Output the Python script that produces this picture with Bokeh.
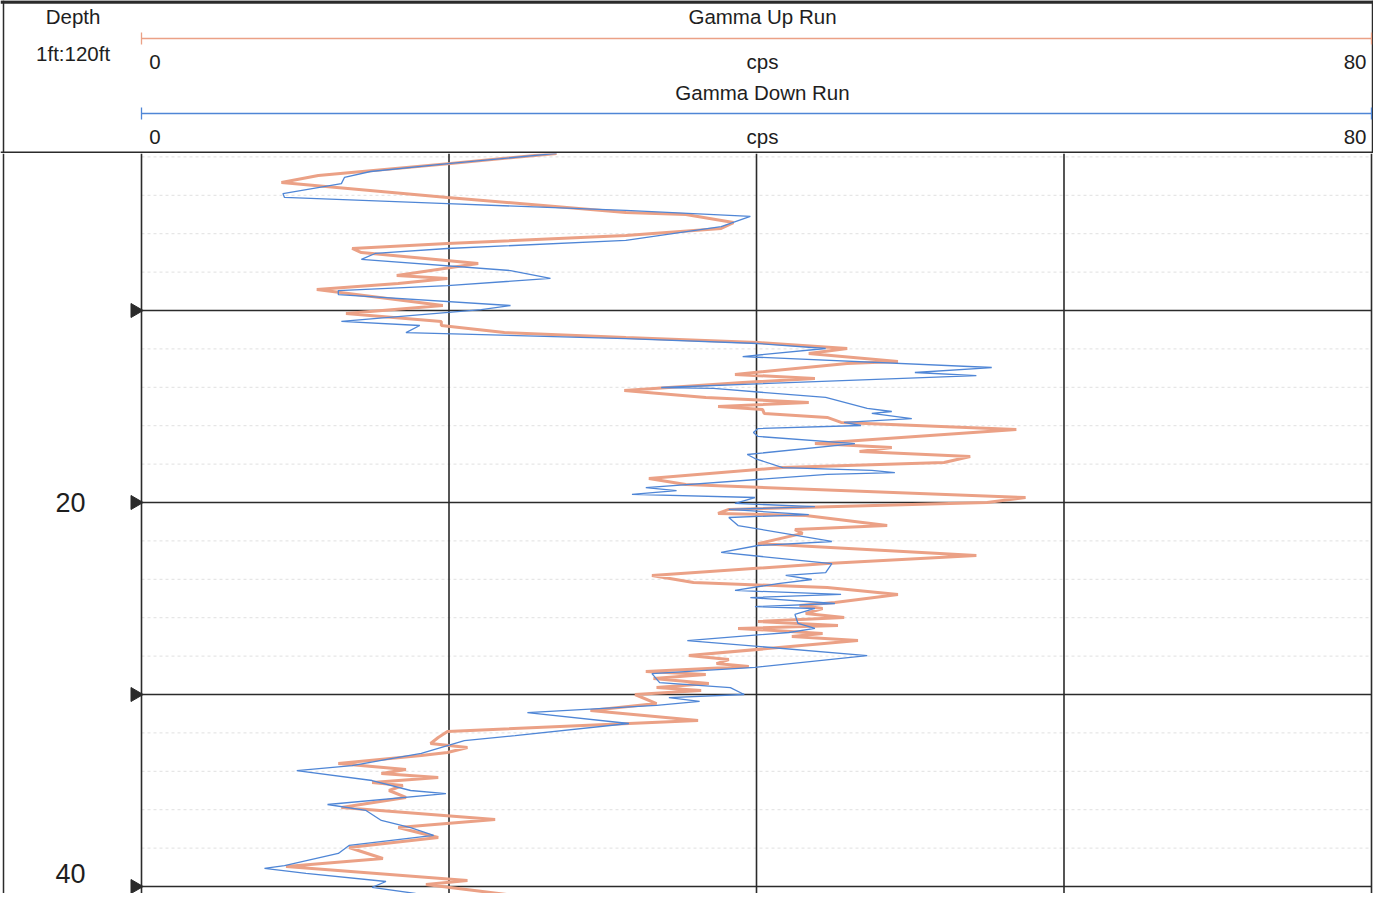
import numpy as np
from bokeh.plotting import figure
from bokeh.models import Range1d
from bokeh.layouts import column
from bokeh.core.properties import value
from bokeh.embed import file_html
from bokeh.resources import INLINE

# ---------------- data ----------------
up_depth = [1.82, 2.34, 2.97, 3.33, 4.11, 4.90, 5.00, 5.42, 5.73, 6.09, 6.51, 6.77, 6.98, 7.55, 8.18,
            8.33, 8.59, 8.91, 9.74, 10.16, 10.57, 10.78, 11.15, 11.41, 11.67, 11.98, 12.24, 12.66, 12.76,
            13.33, 13.54, 13.75, 14.17, 14.53, 14.79, 15.00, 15.16, 15.36, 15.57, 15.83, 16.20, 16.93,
            17.14, 17.34, 17.60, 17.92, 18.18, 18.75, 19.06, 19.74, 20.00, 20.36, 20.57, 20.68, 21.20,
            21.41, 21.61, 22.14, 22.76, 23.18, 23.80, 24.17, 24.43, 24.79, 25.21, 25.36, 25.52, 25.78,
            25.99, 26.20, 26.41, 26.56, 26.82, 26.98, 27.19, 27.97, 28.18, 28.39, 28.54, 28.80, 28.96,
            29.17, 29.43, 29.64, 29.79, 30.00, 30.47, 30.83, 31.35, 31.51, 31.93, 32.24, 32.55, 32.76,
            33.02, 33.18, 33.59, 33.91, 34.11, 34.32, 34.58, 34.74, 35.00, 35.36, 35.89, 36.51, 36.93,
            37.45, 37.97, 38.54, 38.96, 39.69, 39.90, 40.47, 40.89, 41.20]
up_cps = [27.0, 20.1, 11.5, 9.1, 19.9, 31.5, 35.4, 38.5, 37.7, 31.5, 19.9, 13.7, 14.3, 21.9, 16.6,
          19.9, 16.7, 11.4, 19.6, 13.3, 19.5, 19.5, 23.6, 31.5, 40.1, 45.9, 43.4, 49.2, 45.9,
          38.6, 43.8, 39.1, 31.4, 36.7, 43.4, 37.5, 40.4, 40.5, 44.6, 45.5, 56.9, 43.8,
          48.8, 46.7, 53.9, 52.2, 41.7, 33.0, 35.4, 57.5, 55.0, 38.2, 37.5, 43.2, 48.5,
          42.5, 43.0, 40.1, 54.3, 44.6, 33.2, 35.9, 44.6, 49.2, 45.1, 42.8, 44.3, 43.2,
          45.7, 40.1, 45.3, 38.8, 44.3, 42.3, 46.6, 35.6, 38.2, 37.4, 39.5, 32.8, 36.7,
          33.3, 36.9, 33.5, 36.4, 32.1, 33.5, 29.2, 36.2, 31.7, 19.9, 19.3, 18.8, 21.2,
          19.9, 18.2, 12.8, 17.2, 15.6, 19.3, 15.0, 17.0, 16.1, 17.2, 13.0, 23.0, 16.7,
          19.3, 13.5, 15.7, 9.4, 21.2, 18.5, 24.3, 22.7, 23.2]

down_depth = [1.82, 2.34, 2.76, 3.07, 3.39, 3.91, 4.11, 4.43, 4.79, 5.10, 5.63, 6.35, 6.77, 7.03, 7.34,
              7.92, 8.33, 8.70, 8.96, 9.17, 9.74, 9.95, 10.57, 10.78, 11.15, 11.46, 11.72, 11.98, 12.40,
              12.97, 13.23, 13.39, 14.01, 14.06, 14.53, 15.10, 15.26, 15.36, 15.63, 15.83, 15.99, 16.15,
              16.35, 16.56, 16.93, 17.50, 17.71, 18.18, 18.33, 18.44, 18.54, 19.22, 19.38, 19.58, 19.74,
              20.05, 20.21, 20.36, 20.63, 20.78, 21.20, 22.03, 22.24, 22.60, 23.18, 23.65, 23.80, 24.01,
              24.22, 24.58, 24.79, 24.95, 25.26, 25.42, 25.52, 25.83, 26.30, 26.56, 26.77, 27.19, 27.97,
              28.59, 28.91, 29.38, 29.64, 30.00, 30.16, 30.36, 30.57, 30.94, 31.51, 32.14, 32.40, 33.07,
              33.28, 33.70, 33.96, 34.48, 35.00, 35.16, 35.73, 36.04, 36.56, 36.93, 37.34, 37.86, 38.28,
              38.91, 39.06, 39.32, 39.74, 40.05, 40.36, 41.09]
down_cps = [27.0, 20.1, 14.9, 13.2, 13.0, 9.2, 9.3, 19.9, 31.5, 39.6, 37.7, 31.5, 19.9, 15.2, 14.3,
            24.0, 26.6, 19.9, 12.8, 12.8, 24.0, 22.1, 13.0, 18.1, 17.2, 31.5, 40.1, 44.5, 39.1,
            55.3, 50.3, 54.3, 33.8, 37.2, 44.5, 47.2, 48.8, 47.5, 50.1, 45.7, 46.8, 40.1,
            39.8, 40.1, 46.4, 39.4, 39.9, 41.7, 47.5, 49.0, 44.6, 32.8, 34.8, 31.9, 39.9,
            38.6, 43.8, 38.2, 43.4, 38.2, 38.8, 44.9, 40.1, 37.7, 44.9, 44.5, 41.9, 43.6,
            41.4, 38.6, 45.5, 39.6, 45.1, 39.9, 43.8, 42.5, 42.7, 43.8, 42.1, 35.5, 47.2,
            39.9, 33.2, 33.7, 38.3, 39.2, 34.3, 36.3, 33.5, 25.1, 31.7, 24.3, 21.0, 18.2,
            16.7, 13.7, 10.1, 15.0, 17.5, 19.8, 12.1, 14.6, 15.6, 17.5, 19.0, 13.5, 12.8,
            9.3, 8.0, 10.7, 15.9, 15.0, 17.8, 19.5]

scale_min, scale_max = 0, 80
grid_cps = [0, 20, 40, 60, 80]
major_depths = [10, 20, 30, 40]
minor_depths = [2, 4, 6, 8, 12, 14, 16, 18, 22, 24, 26, 28, 32, 34, 36, 38]
depth_labels = [20, 40]
curve_titles = ["Gamma Up Run", "Gamma Down Run"]
unit = "cps"

# ---------------- styling ----------------
ORANGE = "#EBA186"
BLUE = "#4F86D6"
DARK = "#2b2b2b"
TXT = "#1e1e1e"
FONT = value("Liberation Sans")
W = 1373
HH = 153                           # header height
TH = 740                           # track height
PXC = 1230 / 80                    # pixels per cps
X0 = -141 / PXC                    # left edge of figure in cps units
X1 = 80 + 2 / PXC
TOP_D = 10 - 157 / 19.2
BOT_D = TOP_D + TH / 19.2
XMID = (762 - 141) / PXC           # centre of header titles
XR = (1366 - 141) / PXC            # right edge of the "80" labels

# ---------------- header ----------------
hdr = figure(width=W, height=HH, x_range=Range1d(X0, X1), y_range=Range1d(HH, 0),
             x_axis_type=None, y_axis_type=None, output_backend="svg",
             toolbar_location=None, min_border=0, outline_line_color=None)
hdr.background_fill_color = "white"
# borders
hdr.segment(x0=[X0, X0 + 3 / PXC, X1 - 1 / PXC, X0], y0=[1.5, 0, 0, HH - 1],
            x1=[X1, X0 + 3 / PXC, X1 - 1 / PXC, X1], y1=[1.5, HH, HH, HH - 1],
            line_color=DARK, line_width=[3.5, 1.5, 1.5, 2])
# scale lines
for yl, col in [(38, ORANGE), (113, BLUE)]:
    hdr.segment(x0=[scale_min], y0=[yl], x1=[scale_max], y1=[yl], line_color=col, line_width=1.5)
    hdr.segment(x0=[scale_min, scale_max], y0=[yl - 6, yl - 6], x1=[scale_min, scale_max],
                y1=[yl + 6, yl + 6], line_color=col, line_width=1.3)
hdr.text(x=[XMID, XMID], y=[16, 92], text=curve_titles, text_font=FONT, text_font_size="20.5px",
         text_align="center", text_baseline="middle", text_color=TXT)
hdr.text(x=[XMID, XMID], y=[61, 136], text=[unit, unit], text_font=FONT, text_font_size="20.5px",
         text_align="center", text_baseline="middle", text_color=TXT)
hdr.text(x=[0.5, 0.5], y=[61, 136], text=[str(scale_min)] * 2, text_font=FONT,
         text_font_size="20.5px", text_align="left", text_baseline="middle", text_color=TXT)
hdr.text(x=[XR, XR], y=[61, 136], text=[str(scale_max)] * 2, text_font=FONT,
         text_font_size="20.5px", text_align="right", text_baseline="middle", text_color=TXT)
hdr.text(x=[-4.45, -4.45], y=[16, 53], text=["Depth", "1ft:120ft"], text_font=FONT,
         text_font_size="20.5px", text_align="center", text_baseline="middle", text_color=TXT)

# ---------------- track ----------------
p = figure(width=W, height=TH, x_range=Range1d(X0, X1), y_range=Range1d(BOT_D, TOP_D),
           x_axis_type=None, y_axis_type=None, output_backend="svg",
           toolbar_location=None, min_border=0, outline_line_color=None)
p.background_fill_color = "white"
# minor depth lines
p.segment(x0=[scale_min] * len(minor_depths), y0=minor_depths,
          x1=[scale_max] * len(minor_depths), y1=minor_depths,
          line_color="#e0e0e0", line_width=1, line_dash="3 3")
# vertical grid
p.segment(x0=grid_cps, y0=[TOP_D] * len(grid_cps), x1=grid_cps, y1=[BOT_D] * len(grid_cps),
          line_color=DARK, line_width=1.6)
# major depth lines
p.segment(x0=[-0.5] * len(major_depths), y0=major_depths,
          x1=[scale_max] * len(major_depths), y1=major_depths,
          line_color=DARK, line_width=1.6)
# left outer border
p.segment(x0=[X0 + 3 / PXC], y0=[TOP_D], x1=[X0 + 3 / PXC], y1=[BOT_D], line_color=DARK,
          line_width=1.5)
# depth markers
p.scatter(x=[-0.42] * len(major_depths), y=major_depths, marker="triangle", size=14,
          angle=-np.pi / 2, color=DARK)
p.text(x=[-4.62] * len(depth_labels), y=depth_labels, text=[str(d) for d in depth_labels],
       text_font=FONT, text_font_size="27px", text_align="center", text_baseline="middle",
       y_offset=[0, -13], text_color=TXT)
# curves
p.line(up_cps, up_depth, line_color=ORANGE, line_width=3)
p.line(down_cps, down_depth, line_color=BLUE, line_width=1.3)

layout = column(hdr, p, spacing=0)
open("out.html", "w").write(file_html(layout, INLINE))
